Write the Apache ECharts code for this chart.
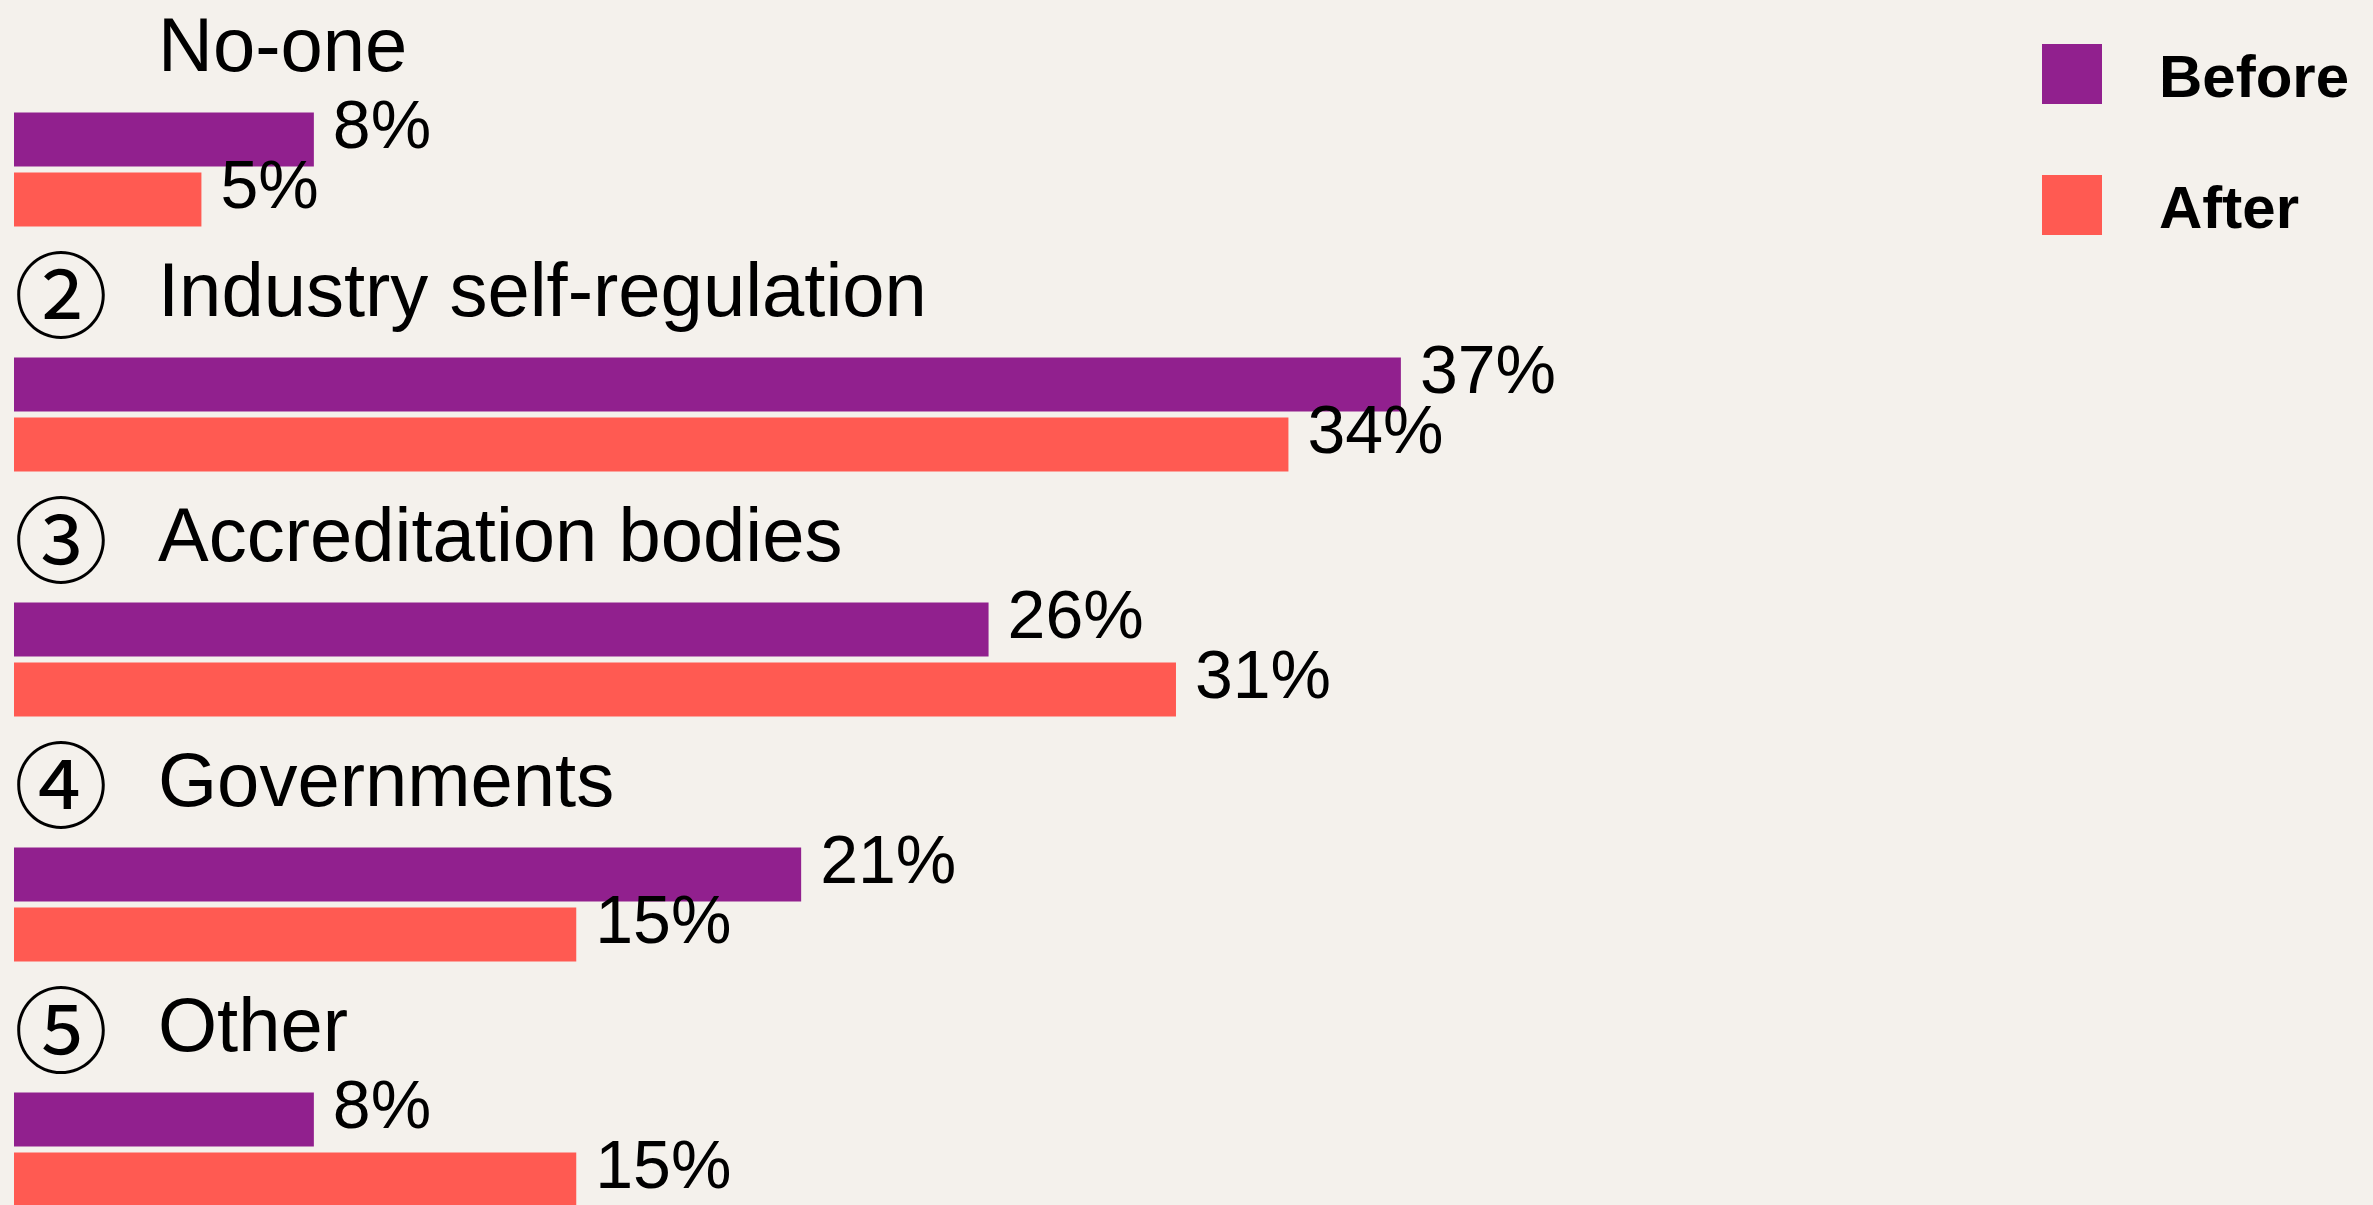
<!DOCTYPE html>
<html>
<head>
<meta charset="utf-8">
<script src="https://cdn.jsdelivr.net/npm/echarts@6/dist/echarts.min.js"></script>
<style>
  html, body { margin: 0; padding: 0; background: #f4f1ec; }
  #chart { width: 2373px; height: 1205px; }
</style>
</head>
<body>
<div id="chart"></div>
<script>
// data
var categories = ['No-one', 'Industry self-regulation', 'Accreditation bodies', 'Governments', 'Other']
var markers = ['', '②', '③', '④', '⑤']
var before = [8, 37, 26, 21, 8]
var after = [5, 34, 31, 15, 15]
var seriesNames = ['Before', 'After']

var chart = echarts.init(document.getElementById('chart'))

var valueLabel = {
  show: true,
  position: 'right',
  distance: 19,
  offset: [0, -10],
  formatter: '{c}%',
  color: '#000',
  fontFamily: 'Liberation Sans',
  fontSize: 68
}

var option = {
  backgroundColor: '#f4f1ec',
  animation: false,
  legend: {
    orient: 'vertical',
    left: 2037,
    top: 39,
    itemWidth: 60,
    itemHeight: 60,
    itemGap: 65,
    icon: 'rect',
    data: seriesNames,
    formatter: function (name) {
      return '{a|' + name + '}'
    },
    textStyle: {
      rich: {
        a: {
          color: '#000',
          fontFamily: 'Liberation Sans',
          fontWeight: 'bold',
          fontSize: 60,
          padding: [12, 0, 0, 52]
        }
      }
    }
  },
  grid: {
    left: 14,
    top: 47,
    width: 2249,
    height: 1225,
    containLabel: false,
    outerBoundsMode: 'none'
  },
  xAxis: {
    type: 'value',
    min: 0,
    max: 60,
    show: false
  },
  yAxis: {
    type: 'category',
    inverse: true,
    data: categories,
    axisLine: { show: false },
    axisTick: { show: false },
    splitLine: { show: false },
    axisLabel: {
      inside: true,
      margin: 0,
      align: 'left',
      verticalAlign: 'middle',
      padding: [0, 0, 238, 0],
      formatter: function (val, idx) {
        return '{n|' + markers[idx] + '}{t|' + val + '}'
      },
      rich: {
        n: {
          width: 144,
          fontFamily: 'Noto Sans CJK SC',
          fontSize: 94,
          color: '#000',
          align: 'left'
        },
        t: {
          fontFamily: 'Liberation Sans',
          fontSize: 76,
          color: '#000'
        }
      }
    }
  },
  series: [
    {
      name: seriesNames[0],
      type: 'bar',
      data: before,
      barWidth: 54,
      barGap: '11%',
      itemStyle: { color: '#91208e' },
      label: valueLabel
    },
    {
      name: seriesNames[1],
      type: 'bar',
      data: after,
      barWidth: 54,
      itemStyle: { color: '#ff5a52' },
      label: valueLabel
    }
  ]
}

chart.setOption(option)
</script>
</body>
</html>
